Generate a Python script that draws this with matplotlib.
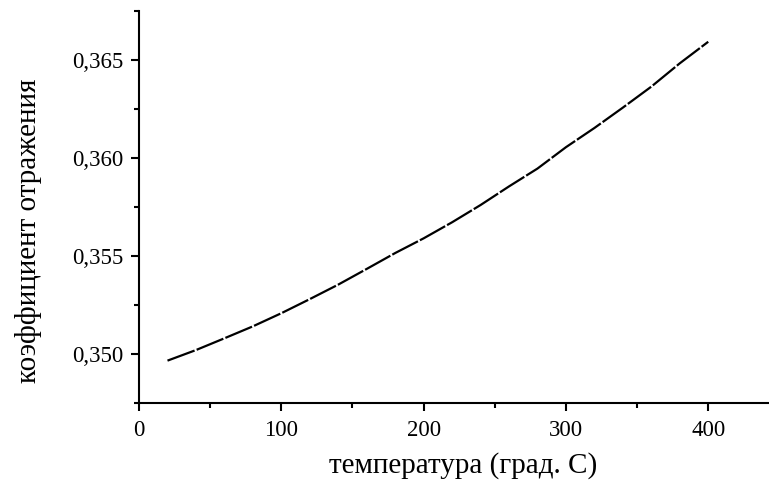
import matplotlib
matplotlib.use("Agg")
import matplotlib.pyplot as plt
from matplotlib.ticker import MultipleLocator, FuncFormatter

# Reflection coefficient vs. temperature
temperature = [20, 40, 60, 80, 100, 120, 140, 160, 180, 200,
               220, 240, 260, 280, 300, 320, 340, 360, 380, 400]
reflectance = [0.34966, 0.35020, 0.35080, 0.35141, 0.35208, 0.35280,
               0.35354, 0.35434, 0.35515, 0.35590, 0.35672, 0.35760,
               0.35855, 0.35946, 0.36055, 0.36153, 0.36257, 0.36364,
               0.36483, 0.36593]

x_ticks = [0, 100, 200, 300, 400]
y_ticks = [0.350, 0.355, 0.360, 0.365]

plt.rcParams["font.family"] = ["Liberation Serif", "DejaVu Serif"]

fig = plt.figure(figsize=(7.69, 4.84), dpi=100)
ax = fig.add_axes([0.1808, 0.1674, 0.8179, 0.8099])

ax.plot(temperature, reflectance, color="black", linewidth=1.6,
        linestyle=(0, (13, 1)), solid_capstyle="butt", dash_capstyle="butt")

ax.set_xlim(0, 442)
ax.set_ylim(0.3475, 0.3675)
ax.set_xticks(x_ticks)
ax.set_yticks(y_ticks)
ax.xaxis.set_minor_locator(MultipleLocator(50))
ax.yaxis.set_minor_locator(MultipleLocator(0.0025))

ax.xaxis.set_major_formatter(FuncFormatter(lambda v, p: f"{v:.0f}"))
ax.yaxis.set_major_formatter(FuncFormatter(lambda v, p: f"{v:.3f}".replace(".", ",")))

for side in ("top", "right"):
    ax.spines[side].set_visible(False)
for side in ("left", "bottom"):
    ax.spines[side].set_linewidth(1.5)

ax.tick_params(which="major", direction="out", length=6, width=1.5,
               labelsize=16.5, pad=5)
ax.tick_params(axis="x", which="major", pad=6)
ax.tick_params(which="minor", direction="out", length=3.5, width=1.5)

ax.set_xlabel("температура (град. С)", fontsize=21)
ax.set_ylabel("коэффициент отражения", fontsize=21)
ax.xaxis.set_label_coords(0.515, -0.125)
ax.yaxis.set_label_coords(-0.155, 0.44)

fig.savefig("out.png", dpi=100)
